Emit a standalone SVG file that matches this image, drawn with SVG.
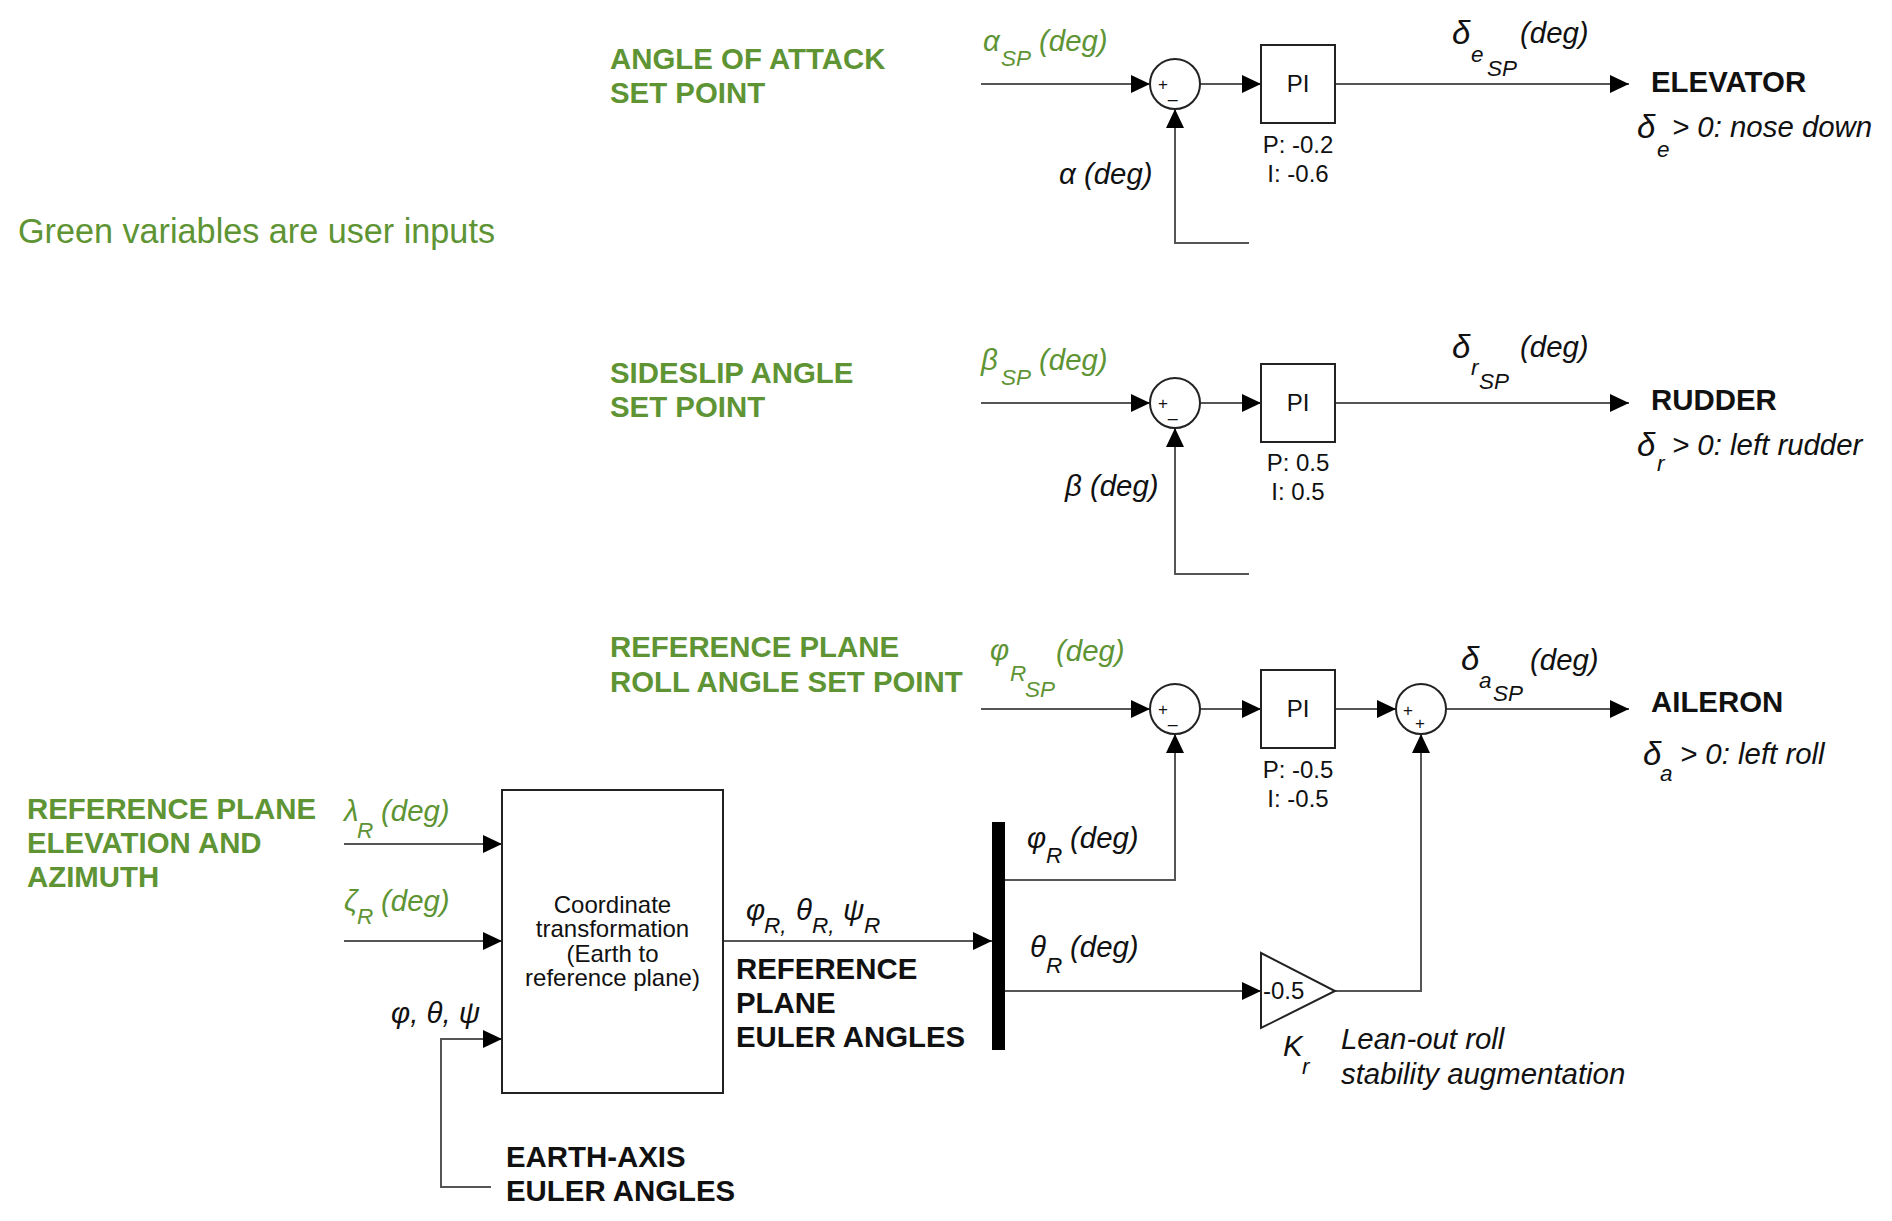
<svg xmlns="http://www.w3.org/2000/svg" width="1892" height="1221" viewBox="0 0 1892 1221">
<style>
text{font-family:'Liberation Sans',Arial,sans-serif;fill:#111}
.title{font-weight:bold;font-size:29.4px;fill:#5e9434}
.lbl{font-weight:bold;font-size:29.4px}
.var{font-style:italic;font-size:29.4px}
.g{fill:#5e9434}
.sub{font-size:22.5px}
.dl{font-size:33px}
.small{font-size:24px}
.mid{text-anchor:middle}
.sign{font-size:17px}
.wire{stroke:#555;stroke-width:2;fill:none}
.box{stroke:#222;stroke-width:2;fill:#fff}
</style>
<defs>
<marker id="arr" markerUnits="userSpaceOnUse" markerWidth="20" markerHeight="18" refX="19" refY="9" orient="auto">
<path d="M0,0 L19,9 L0,18 Z" fill="#000"/>
</marker>
</defs>
<rect width="1892" height="1221" fill="#fff"/>

<g id="connectors">
<path class="wire" d="M981,84 H1150" marker-end="url(#arr)"/>
<path class="wire" d="M1200,84 H1261" marker-end="url(#arr)"/>
<path class="wire" d="M1335,84 H1629" marker-end="url(#arr)"/>
<path class="wire" d="M1249,243 H1175 V109" marker-end="url(#arr)"/>
<path class="wire" d="M981,403 H1150" marker-end="url(#arr)"/>
<path class="wire" d="M1200,403 H1261" marker-end="url(#arr)"/>
<path class="wire" d="M1335,403 H1629" marker-end="url(#arr)"/>
<path class="wire" d="M1249,574 H1175 V428" marker-end="url(#arr)"/>
<path class="wire" d="M981,709 H1150" marker-end="url(#arr)"/>
<path class="wire" d="M1200,709 H1261" marker-end="url(#arr)"/>
<path class="wire" d="M1335,709 H1396" marker-end="url(#arr)"/>
<path class="wire" d="M1446,709 H1629" marker-end="url(#arr)"/>
<path class="wire" d="M1005,880 H1175 V734" marker-end="url(#arr)"/>
<path class="wire" d="M1005,991 H1261" marker-end="url(#arr)"/>
<path class="wire" d="M1335,991 H1421 V734" marker-end="url(#arr)"/>
<path class="wire" d="M344,844 H502" marker-end="url(#arr)"/>
<path class="wire" d="M344,941 H502" marker-end="url(#arr)"/>
<path class="wire" d="M491,1187 H441 V1039 H502" marker-end="url(#arr)"/>
<path class="wire" d="M723,941 H992" marker-end="url(#arr)"/>
</g>

<text x="18" y="243" style="font-size:34.2px;fill:#5e9434">Green variables are user inputs</text>

<g id="aoa-title">
<text class="title" x="610" y="69">ANGLE OF ATTACK</text>
<text class="title" x="610" y="103">SET POINT</text>
</g>
<g id="aoa-sp-label">
<text class="var g"><tspan x="983" y="51">α</tspan><tspan class="sub g" x="1001" y="66">SP</tspan><tspan x="1039" y="51">(deg)</tspan></text>
</g>
<g id="sum1">
<circle class="box" cx="1175" cy="84" r="25"/>
<text class="sign" x="1158" y="90">+</text>
<text class="sign" x="1168" y="98">_</text>
</g>
<text class="var" x="1059" y="184">α (deg)</text>
<g id="pi1">
<rect class="box" x="1261" y="45" width="74" height="78"/>
<text class="small mid" x="1298" y="92">PI</text>
<text class="small mid" x="1298" y="153">P: -0.2</text>
<text class="small mid" x="1298" y="182">I: -0.6</text>
</g>
<g id="elev-sp-label">
<text class="var"><tspan class="dl" x="1452" y="44">δ</tspan><tspan class="sub" x="1471" y="62">e</tspan><tspan class="sub" x="1487" y="76">SP</tspan><tspan x="1520" y="43">(deg)</tspan></text>
</g>
<g id="elevator">
<text class="lbl" x="1651" y="92">ELEVATOR</text>
<text class="var"><tspan class="dl" x="1637" y="138">δ</tspan><tspan class="sub" x="1657" y="157">e</tspan><tspan x="1672" y="137">&gt; 0: nose down</tspan></text>
</g>

<g id="beta-title">
<text class="title" x="610" y="383">SIDESLIP ANGLE</text>
<text class="title" x="610" y="417">SET POINT</text>
</g>
<g id="beta-sp-label">
<text class="var g"><tspan x="981" y="370">β</tspan><tspan class="sub g" x="1001" y="385">SP</tspan><tspan x="1039" y="370">(deg)</tspan></text>
</g>
<g id="sum2">
<circle class="box" cx="1175" cy="403" r="25"/>
<text class="sign" x="1158" y="409">+</text>
<text class="sign" x="1168" y="417">_</text>
</g>
<text class="var" x="1065" y="496">β (deg)</text>
<g id="pi2">
<rect class="box" x="1261" y="364" width="74" height="78"/>
<text class="small mid" x="1298" y="411">PI</text>
<text class="small mid" x="1298" y="471">P: 0.5</text>
<text class="small mid" x="1298" y="500">I: 0.5</text>
</g>
<g id="rudder-sp-label">
<text class="var"><tspan class="dl" x="1452" y="358">δ</tspan><tspan class="sub" x="1471" y="375">r</tspan><tspan class="sub" x="1479" y="389">SP</tspan><tspan x="1520" y="357">(deg)</tspan></text>
</g>
<g id="rudder">
<text class="lbl" x="1651" y="410">RUDDER</text>
<text class="var"><tspan class="dl" x="1637" y="456">δ</tspan><tspan class="sub" x="1657" y="471">r</tspan><tspan x="1672" y="455">&gt; 0: left rudder</tspan></text>
</g>

<g id="roll-title">
<text class="title" x="610" y="657">REFERENCE PLANE</text>
<text class="title" x="610" y="692">ROLL ANGLE SET POINT</text>
</g>
<g id="roll-sp-label">
<text class="var g"><tspan x="990" y="660">φ</tspan><tspan class="sub g" x="1010" y="681">R</tspan><tspan class="sub g" x="1025" y="697">SP</tspan><tspan x="1056" y="661">(deg)</tspan></text>
</g>
<g id="sum3">
<circle class="box" cx="1175" cy="709" r="25"/>
<text class="sign" x="1158" y="715">+</text>
<text class="sign" x="1168" y="723">_</text>
</g>
<g id="pi3">
<rect class="box" x="1261" y="670" width="74" height="78"/>
<text class="small mid" x="1298" y="717">PI</text>
<text class="small mid" x="1298" y="778">P: -0.5</text>
<text class="small mid" x="1298" y="807">I: -0.5</text>
</g>
<g id="sum4">
<circle class="box" cx="1421" cy="709" r="25"/>
<text class="sign" x="1403" y="716">+</text>
<text class="sign" x="1415" y="729">+</text>
</g>
<g id="ail-sp-label">
<text class="var"><tspan class="dl" x="1461" y="670">δ</tspan><tspan class="sub" x="1479" y="688">a</tspan><tspan class="sub" x="1493" y="701">SP</tspan><tspan x="1530" y="670">(deg)</tspan></text>
</g>
<g id="aileron">
<text class="lbl" x="1651" y="712">AILERON</text>
<text class="var"><tspan class="dl" x="1643" y="765">δ</tspan><tspan class="sub" x="1660" y="781">a</tspan><tspan x="1680" y="764">&gt; 0: left roll</tspan></text>
</g>

<g id="bus">
<rect x="992" y="822" width="13" height="228" fill="#000"/>
<text class="var"><tspan x="1027" y="848">φ</tspan><tspan class="sub" x="1046" y="863">R</tspan><tspan x="1070" y="848">(deg)</tspan></text>
<text class="var"><tspan x="1030" y="957">θ</tspan><tspan class="sub" x="1046" y="973">R</tspan><tspan x="1070" y="957">(deg)</tspan></text>
</g>

<g id="gain">
<polygon class="box" points="1261,953 1261,1028 1335,991"/>
<text class="small" x="1263" y="999">-0.5</text>
<text class="var"><tspan x="1283" y="1056">K</tspan><tspan class="sub" x="1302" y="1074">r</tspan></text>
<text class="var" x="1341" y="1049">Lean-out roll</text>
<text class="var" x="1341" y="1084">stability augmentation</text>
</g>

<g id="ref-plane-title">
<text class="title" x="27" y="819">REFERENCE PLANE</text>
<text class="title" x="27" y="853">ELEVATION AND</text>
<text class="title" x="27" y="887">AZIMUTH</text>
</g>
<g id="lambda-label">
<text class="var g"><tspan x="344" y="821">λ</tspan><tspan class="sub g" x="357" y="838">R</tspan><tspan x="381" y="821">(deg)</tspan></text>
</g>
<g id="zeta-label">
<text class="var g"><tspan x="344" y="911">ζ</tspan><tspan class="sub g" x="357" y="924">R</tspan><tspan x="381" y="911">(deg)</tspan></text>
</g>
<g id="coord-transform">
<rect class="box" x="502" y="790" width="221" height="303"/>
<text class="small mid" x="612.5" y="913">Coordinate</text>
<text class="small mid" x="612.5" y="937">transformation</text>
<text class="small mid" x="612.5" y="962">(Earth to</text>
<text class="small mid" x="612.5" y="986">reference plane)</text>
</g>
<text class="var" x="391" y="1023">φ, θ, ψ</text>
<g id="earth-axis">
<text class="lbl" x="506" y="1167">EARTH-AXIS</text>
<text class="lbl" x="506" y="1201">EULER ANGLES</text>
</g>
<g id="ref-euler">
<text class="var"><tspan x="746" y="920">φ</tspan><tspan class="sub" x="764" y="933">R,</tspan><tspan x="796" y="920">θ</tspan><tspan class="sub" x="812" y="933">R,</tspan><tspan x="843" y="920">ψ</tspan><tspan class="sub" x="864" y="933">R</tspan></text>
<text class="lbl" x="736" y="979">REFERENCE</text>
<text class="lbl" x="736" y="1013">PLANE</text>
<text class="lbl" x="736" y="1047">EULER ANGLES</text>
</g>
</svg>
